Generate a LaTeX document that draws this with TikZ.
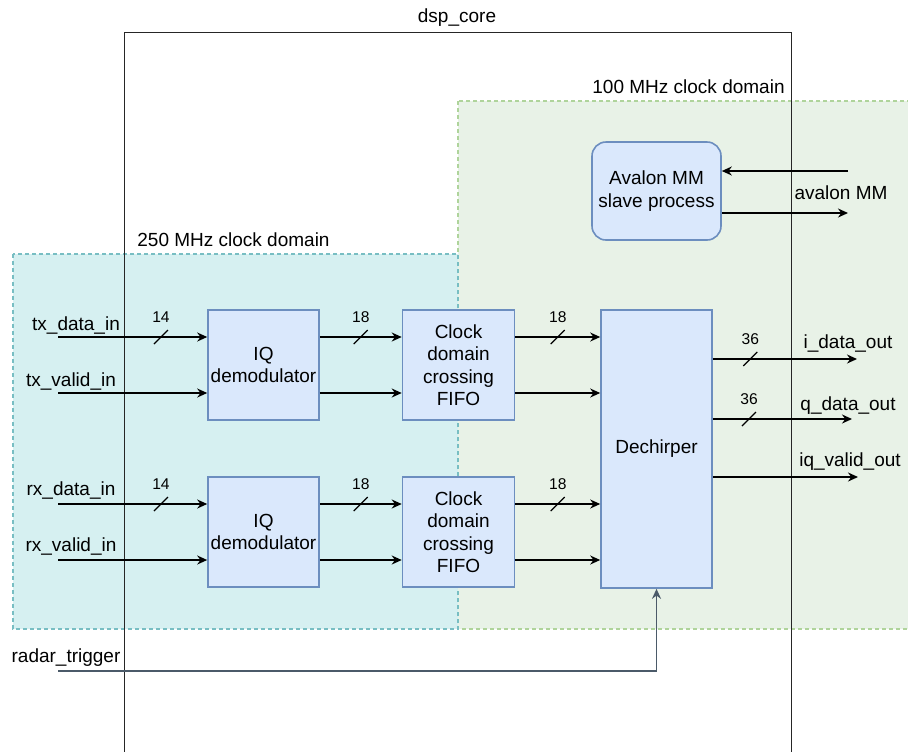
\documentclass[tikz,border=0pt]{standalone}
\usepackage{fontspec}
\setmainfont{Liberation Sans}
\usetikzlibrary{arrows.meta,positioning,calc,decorations.markings}
\definecolor{blkfill}{HTML}{DAE8FC}
\definecolor{blkline}{HTML}{6C8EBF}
\definecolor{fastfill}{RGB}{214,240,241}
\definecolor{fastline}{RGB}{120,190,195}
\definecolor{slowfill}{RGB}{232,242,231}
\definecolor{slowline}{RGB}{175,212,155}
\definecolor{trigline}{RGB}{75,90,105}
\tikzset{
  blk/.style={draw=blkline, fill=blkfill, line width=0.8pt, align=center, inner sep=0pt,
    font=\fontsize{9.5}{11.2}\selectfont},
  lbl/.style={font=\fontsize{9.5}{11.2}\selectfont, inner sep=0pt},
  buslab/.style={font=\fontsize{7.8}{9}\selectfont, inner sep=0pt},
  sig/.style={-{Stealth[length=5pt, width=4.5pt]}, line width=0.8pt},
  trig/.style={sig, draw=trigline},
  fastdom/.style={draw=fastline, fill=fastfill, dash pattern=on 2pt off 1.5pt, line width=0.6pt},
  slowdom/.style={draw=slowline, fill=slowfill, dash pattern=on 2pt off 1.5pt, line width=0.6pt},
  bus/.style 2 args={postaction={decorate, decoration={markings,
      mark=at position #1 with {\draw[-, line width=0.6pt] (-3.5pt,-3.5pt) -- (3.5pt,3.5pt);
        \node[buslab] at (0,10pt) {#2};}}}},
}

\begin{document}
\begin{tikzpicture}[x=0.5pt, y=-0.5pt]
  \useasboundingbox (0,0) rectangle (908,751);
  \begin{scope}
  \clip (0,0) rectangle (908,751);
  % clock domains
  \draw[slowdom] (458,101) rectangle (930,629);
  \draw[fastdom] (13,254) rectangle (458,629);
  \node[lbl, anchor=east] (slowlab) at (785,87) {100 MHz clock domain};
  \node[lbl, anchor=west] (fastlab) at (137,240) {250 MHz clock domain};

  % top level entity
  \draw[line width=0.5pt, black!85] (124,780) -- (124,32) -- (791,32) -- (791,780);
  \node[lbl] (corelab) at (457,18) {dsp\_core};

  % processing blocks
  \node[blk, minimum width=55.5pt, minimum height=55pt] (iq1) at (263.5,365) {IQ\\demodulator};
  \node[blk, minimum width=55.5pt, minimum height=55pt] (iq2) at (263.5,532) {IQ\\demodulator};
  \node[blk, minimum width=56pt, minimum height=55pt] (cdc1) at (458.5,365) {Clock\\domain\\crossing\\FIFO};
  \node[blk, minimum width=56pt, minimum height=55pt] (cdc2) at (458.5,532) {Clock\\domain\\crossing\\FIFO};
  \node[blk, minimum width=55.5pt, minimum height=139pt] (dech) at (656.5,449) {Dechirper};
  \node[blk, minimum width=64.5pt, minimum height=49pt, rounded corners=7pt] (avmm) at (656.5,191) {Avalon MM\\slave process};

  % ports
  \coordinate (txd) at (58,337);
  \coordinate (txv) at (58,393);
  \coordinate (rxd) at (58,504);
  \coordinate (rxv) at (58,560);
  \coordinate (trg) at (58,671);
  \coordinate (avin) at (848,171);
  \coordinate (avout) at (848,213);
  \coordinate (iout) at (857,359);
  \coordinate (qout) at (852,419);
  \coordinate (vout) at (858,477);
  \node[lbl] (txdlab) at (76,325) {tx\_data\_in};
  \node[lbl] (txvlab) at (71,381) {tx\_valid\_in};
  \node[lbl] (rxdlab) at (71,490) {rx\_data\_in};
  \node[lbl] (rxvlab) at (71,546) {rx\_valid\_in};
  \node[lbl] (trglab) at (66,658) {radar\_trigger};
  \node[lbl] (avlab) at (841,193) {avalon MM};
  \node[lbl] (ilab) at (848,343) {i\_data\_out};
  \node[lbl] (qlab) at (848,406) {q\_data\_out};
  \node[lbl] (vlab) at (850,462) {iq\_valid\_out};

  % inputs
  \draw[sig, bus={0.69}{14}] (txd) -- (txd -| iq1.west);
  \draw[sig] (txv) -- (txv -| iq1.west);
  \draw[sig, bus={0.69}{14}] (rxd) -- (rxd -| iq2.west);
  \draw[sig] (rxv) -- (rxv -| iq2.west);

  % demodulators to fifos
  \draw[sig, bus={0.5}{18}] (iq1.east |- txd) -- (txd -| cdc1.west);
  \draw[sig] (iq1.east |- txv) -- (txv -| cdc1.west);
  \draw[sig, bus={0.5}{18}] (iq2.east |- rxd) -- (rxd -| cdc2.west);
  \draw[sig] (iq2.east |- rxv) -- (rxv -| cdc2.west);

  % fifos to dechirper
  \draw[sig, bus={0.5}{18}] (cdc1.east |- txd) -- (txd -| dech.west);
  \draw[sig] (cdc1.east |- txv) -- (txv -| dech.west);
  \draw[sig, bus={0.5}{18}] (cdc2.east |- rxd) -- (rxd -| dech.west);
  \draw[sig] (cdc2.east |- rxv) -- (rxv -| dech.west);

  % outputs
  \draw[sig, bus={0.26}{36}] (dech.east |- iout) -- (iout);
  \draw[sig, bus={0.26}{36}] (dech.east |- qout) -- (qout);
  \draw[sig] (dech.east |- vout) -- (vout);
  \draw[trig] (trg) -| (dech.south);

  % avalon bus
  \draw[sig] (avin) -- (avin -| avmm.east);
  \draw[sig] (avmm.east |- avout) -- (avout);
  \end{scope}
\end{tikzpicture}
\end{document}
